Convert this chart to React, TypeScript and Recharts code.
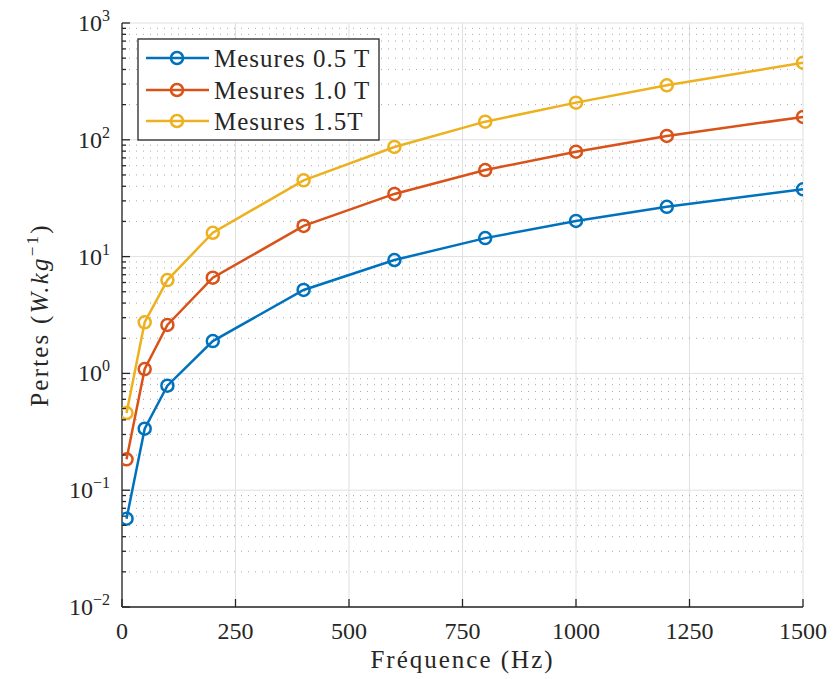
import React from 'react';
import { LineChart, Line, XAxis, YAxis, CartesianGrid, Customized } from 'recharts';

const frequencies = [10, 50, 100, 200, 400, 600, 800, 1000, 1200, 1500];
const pertes05 = [0.057, 0.336, 0.785, 1.89, 5.18, 9.35, 14.4, 20.2, 26.7, 37.7];
const pertes10 = [0.184, 1.09, 2.6, 6.6, 18.3, 34.4, 55.1, 79.1, 108, 157];
const pertes15 = [0.458, 2.74, 6.3, 16.0, 45.0, 86.8, 143, 208, 293, 457];

const seriesKeys = ['p05', 'p10', 'p15'];
const seriesNames = ['Mesures 0.5 T', 'Mesures 1.0 T', 'Mesures 1.5T'];
const seriesColors = ['#0072BD', '#D95319', '#EDB120'];

const xTicks = [0, 250, 500, 750, 1000, 1250, 1500];
const yMajorTicks = [0.01, 0.1, 1, 10, 100, 1000];
const yMajorLabels = ['−2', '−1', '0', '1', '2', '3'];
const yMinorTicks = [
  0.02, 0.03, 0.04, 0.05, 0.06, 0.07, 0.08, 0.09,
  0.2, 0.3, 0.4, 0.5, 0.6, 0.7, 0.8, 0.9,
  2, 3, 4, 5, 6, 7, 8, 9,
  20, 30, 40, 50, 60, 70, 80, 90,
  200, 300, 400, 500, 600, 700, 800, 900,
];
const yAllTicks = [...yMajorTicks, ...yMinorTicks];

const data = frequencies.map((f, i) => ({
  f,
  p05: pertes05[i],
  p10: pertes10[i],
  p15: pertes15[i],
}));

const FONT = 'Liberation Serif';
const INK = '#262626';

const isMajor = (v: number) => yMajorTicks.indexOf(v) >= 0;

const BottomTick = (props: any) => {
  const { x, y, payload } = props;
  return (
    <g>
      <line x1={x} y1={y} x2={x} y2={y - 8} stroke={INK} strokeWidth={1.3} />
      <text x={x} y={y + 32} textAnchor="middle" style={{ fontFamily: FONT }} fontSize={24} fill={INK}>
        {payload.value}
      </text>
    </g>
  );
};

const TopTick = (props: any) => {
  const { x, y } = props;
  return <line x1={x} y1={y} x2={x} y2={y + 8} stroke={INK} strokeWidth={1.3} />;
};

const LeftTick = (props: any) => {
  const { x, y, payload } = props;
  const v = payload.value;
  const major = isMajor(v);
  const len = major ? 8 : 4;
  const idx = yMajorTicks.indexOf(v);
  return (
    <g>
      <line x1={x} y1={y} x2={x + len} y2={y} stroke={INK} strokeWidth={1.3} />
      {major && (
        <text x={x - 12} y={y + 8} textAnchor="end" style={{ fontFamily: FONT }} fontSize={24} fill={INK}>
          <tspan>10</tspan>
          <tspan dy={-10} fontSize={16}>{yMajorLabels[idx]}</tspan>
        </text>
      )}
    </g>
  );
};

const RightTick = (props: any) => {
  const { x, y, payload } = props;
  const len = isMajor(payload.value) ? 8 : 4;
  return <line x1={x} y1={y} x2={x - len} y2={y} stroke={INK} strokeWidth={1.3} />;
};

const Overlay = () => {
  const lx = 130;
  const ly = 31;
  const rows = [50, 82, 113];
  return (
    <g>
      <rect x={lx} y={ly} width={241} height={101} fill="#ffffff" stroke={INK} strokeWidth={1.3} />
      {seriesNames.map((name, i) => (
        <g key={name}>
          <line x1={138} y1={rows[i]} x2={201} y2={rows[i]} stroke={seriesColors[i]} strokeWidth={2.5} />
          <circle cx={169} cy={rows[i]} r={6} fill="none" stroke={seriesColors[i]} strokeWidth={2.5} />
          <text x={206} y={rows[i] + 8.5} style={{ fontFamily: FONT }} fontSize={25} letterSpacing={1} fill={INK}>
            {name}
          </text>
        </g>
      ))}
      <text x={454.5} y={660} textAnchor="middle" style={{ fontFamily: FONT }} fontSize={25} letterSpacing={2} fill={INK}>
        Fréquence (Hz)
      </text>
      <text
        x={40}
        y={307}
        textAnchor="middle"
        transform="rotate(-90, 40, 307)"
        style={{ fontFamily: FONT }}
        fontSize={25}
        letterSpacing={2.2}
        fill={INK}
      >
        <tspan>Pertes (</tspan>
        <tspan fontStyle="italic">W.kg</tspan>
        <tspan dy={-10} fontSize={17}>−1</tspan>
        <tspan dy={10}>)</tspan>
      </text>
    </g>
  );
};

export default function App() {
  return (
    <LineChart
      width={823}
      height={671}
      data={data}
      margin={{ top: 15, right: 28, bottom: 0, left: 0 }}
    >
      <CartesianGrid
        stroke="#e0e0e0"
        strokeWidth={1}
        horizontalValues={yMajorTicks}
        verticalValues={xTicks}
      />
      <CartesianGrid
        stroke="#a8a8a8"
        strokeWidth={1}
        strokeDasharray="1 6"
        vertical={false}
        horizontalValues={yMinorTicks}
      />
      <XAxis
        dataKey="f"
        type="number"
        domain={[0, 1500]}
        ticks={xTicks}
        interval={0}
        height={72}
        tickSize={0}
        tickMargin={0}
        tickLine={false}
        tick={<BottomTick />}
        axisLine={{ stroke: INK, strokeWidth: 1.3 }}
        allowDataOverflow
      />
      <XAxis
        xAxisId="top"
        orientation="top"
        dataKey="f"
        type="number"
        domain={[0, 1500]}
        ticks={xTicks}
        interval={0}
        height={0}
        tickSize={0}
        tickMargin={0}
        tickLine={false}
        tick={<TopTick />}
        axisLine={{ stroke: INK, strokeWidth: 1.3 }}
        allowDataOverflow
      />
      <YAxis
        type="number"
        scale="log"
        domain={[0.01, 1000]}
        ticks={yAllTicks}
        interval={0}
        width={114}
        tickSize={0}
        tickMargin={0}
        tickLine={false}
        tick={<LeftTick />}
        axisLine={{ stroke: INK, strokeWidth: 1.3 }}
        allowDataOverflow
      />
      <YAxis
        yAxisId="right"
        orientation="right"
        type="number"
        scale="log"
        domain={[0.01, 1000]}
        ticks={yAllTicks}
        interval={0}
        width={0}
        tickSize={0}
        tickMargin={0}
        tickLine={false}
        tick={<RightTick />}
        axisLine={{ stroke: INK, strokeWidth: 1.3 }}
        allowDataOverflow
      />
      {seriesKeys.map((k, i) => (
        <Line
          key={k}
          type="linear"
          dataKey={k}
          name={seriesNames[i]}
          stroke={seriesColors[i]}
          strokeWidth={2.5}
          dot={{ r: 6, stroke: seriesColors[i], strokeWidth: 2.5, fill: 'none' }}
          activeDot={false}
          isAnimationActive={false}
        />
      ))}
      <Customized component={Overlay} />
    </LineChart>
  );
}
